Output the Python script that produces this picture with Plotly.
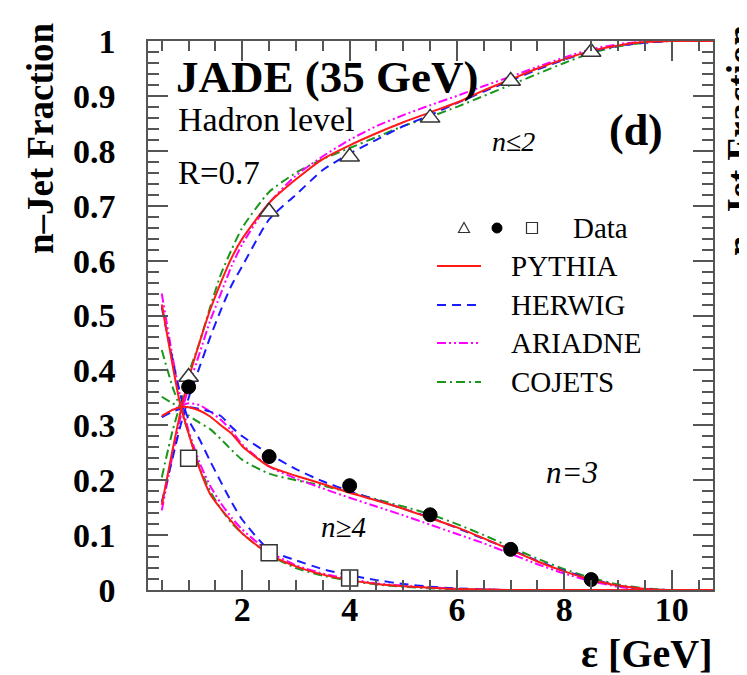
import plotly.graph_objects as go

# ---------------- data ----------------
eps = [0.5, 0.7, 0.85, 1.0, 1.2, 1.4, 1.6, 1.8, 2.0, 2.5, 3.0, 3.5, 4.0, 4.5,
       5.0, 5.5, 6.0, 6.5, 7.0, 7.5, 8.0, 8.5, 9.0, 9.5, 10.0, 10.5, 10.77]

pythia_le2 = [0.155, 0.255, 0.325, 0.385, 0.45, 0.51, 0.56, 0.605, 0.64, 0.705, 0.748, 0.785, 0.81, 0.832,
              0.852, 0.87, 0.888, 0.91, 0.93, 0.95, 0.967, 0.982, 0.992, 0.998, 1.0, 1.0, 1.0]
pythia_3 = [0.317, 0.328, 0.333, 0.333, 0.327, 0.316, 0.300, 0.285, 0.262, 0.225, 0.208, 0.193, 0.177, 0.163,
            0.148, 0.131, 0.114, 0.094, 0.073, 0.052, 0.034, 0.019, 0.008, 0.002, 0.0, 0.0, 0.0]
pythia_ge4 = [0.52, 0.41, 0.335, 0.285, 0.222, 0.175, 0.148, 0.125, 0.103, 0.065, 0.043, 0.028, 0.018, 0.011,
              0.007, 0.004, 0.002, 0.001, 0.0, 0.0, 0.0, 0.0, 0.0, 0.0, 0.0, 0.0, 0.0]

herwig_le2 = [0.16, 0.24, 0.30, 0.35, 0.405, 0.46, 0.51, 0.555, 0.59, 0.675, 0.72, 0.765, 0.795, 0.82,
              0.845, 0.865, 0.887, 0.908, 0.928, 0.948, 0.966, 0.981, 0.991, 0.997, 1.0, 1.0, 1.0]
herwig_3 = [0.315, 0.325, 0.33, 0.333, 0.33, 0.325, 0.317, 0.297, 0.28, 0.248, 0.22, 0.198, 0.18, 0.164,
            0.148, 0.132, 0.113, 0.093, 0.074, 0.053, 0.035, 0.02, 0.008, 0.002, 0.0, 0.0, 0.0]
herwig_ge4 = [0.515, 0.42, 0.355, 0.31, 0.275, 0.235, 0.197, 0.16, 0.128, 0.073, 0.054, 0.038, 0.027, 0.018,
              0.011, 0.006, 0.003, 0.001, 0.0, 0.0, 0.0, 0.0, 0.0, 0.0, 0.0, 0.0, 0.0]

ariadne_le2 = [0.145, 0.245, 0.315, 0.37, 0.43, 0.49, 0.54, 0.59, 0.63, 0.705, 0.755, 0.79, 0.82, 0.845,
               0.865, 0.883, 0.90, 0.918, 0.935, 0.953, 0.97, 0.985, 0.994, 0.999, 1.0, 1.0, 1.0]
ariadne_3 = [0.315, 0.328, 0.335, 0.34, 0.337, 0.325, 0.31, 0.29, 0.265, 0.225, 0.203, 0.185, 0.168, 0.152,
             0.136, 0.119, 0.102, 0.085, 0.066, 0.047, 0.03, 0.016, 0.006, 0.001, 0.0, 0.0, 0.0]
ariadne_ge4 = [0.54, 0.425, 0.35, 0.29, 0.233, 0.19, 0.158, 0.132, 0.11, 0.07, 0.045, 0.03, 0.02, 0.012,
               0.008, 0.005, 0.002, 0.001, 0.0, 0.0, 0.0, 0.0, 0.0, 0.0, 0.0, 0.0, 0.0]

cojets_le2 = [0.205, 0.29, 0.34, 0.395, 0.45, 0.515, 0.575, 0.62, 0.66, 0.725, 0.76, 0.785, 0.805, 0.825,
              0.845, 0.862, 0.88, 0.9, 0.92, 0.94, 0.96, 0.978, 0.99, 0.997, 1.0, 1.0, 1.0]
cojets_3 = [0.352, 0.34, 0.332, 0.318, 0.305, 0.293, 0.275, 0.255, 0.237, 0.212, 0.2, 0.19, 0.178, 0.165,
            0.152, 0.138, 0.12, 0.1, 0.078, 0.057, 0.038, 0.022, 0.01, 0.003, 0.0, 0.0, 0.0]
cojets_ge4 = [0.437, 0.37, 0.33, 0.285, 0.225, 0.18, 0.148, 0.122, 0.103, 0.064, 0.04, 0.026, 0.017, 0.01,
              0.006, 0.003, 0.001, 0.0, 0.0, 0.0, 0.0, 0.0, 0.0, 0.0, 0.0, 0.0, 0.0]

data_x = [1.0, 2.5, 4.0, 5.5, 7.0, 8.5]
data_le2 = [0.388, 0.689, 0.789, 0.860, 0.927, 0.980]
data_3 = [0.370, 0.243, 0.190, 0.137, 0.074, 0.019]
data_x4 = [1.0, 2.5, 4.0]
data_ge4 = [0.240, 0.068, 0.022]

x_ticks = [2, 4, 6, 8, 10]
x_ticktext = ["2", "4", "6", "8", "10"]
y_ticks = [0, 0.1, 0.2, 0.3, 0.4, 0.5, 0.6, 0.7, 0.8, 0.9, 1.0]
y_ticktext = ["0", "0.1", "0.2", "0.3", "0.4", "0.5", "0.6", "0.7", "0.8", "0.9", "1"]

models = ["PYTHIA", "HERWIG", "ARIADNE", "COJETS"]
model_series = {
    "PYTHIA": (pythia_le2, pythia_3, pythia_ge4),
    "HERWIG": (herwig_le2, herwig_3, herwig_ge4),
    "ARIADNE": (ariadne_le2, ariadne_3, ariadne_ge4),
    "COJETS": (cojets_le2, cojets_3, cojets_ge4),
}

# ---------------- styles ----------------
styles = {
    "PYTHIA": dict(color="#ff1a1a", dash="solid"),
    "HERWIG": dict(color="#1a1aff", dash="9px,6px"),
    "ARIADNE": dict(color="#ff00ff", dash="9px,3px,2px,3px,2px,3px"),
    "COJETS": dict(color="#1a961a", dash="9px,4px,2px,4px"),
}
AX = "#555555"
SERIF = "Liberation Serif"

# the page body has an 8px default margin: the figure is placed 8px right / down
OFF = 8
# desired on-screen pixel geometry of the plotting frame
L, R, T, B = 148, 713, 41, 590
W, H = 747 - OFF, 675 - OFF


def px(xp):
    return (xp - L) / (R - L)


def py(yp):
    return (B - yp) / (B - T)


fig = go.Figure()

draw_order = ["COJETS", "ARIADNE", "HERWIG", "PYTHIA"]
for m in draw_order:
    st = styles[m]
    for series in model_series[m]:
        fig.add_trace(go.Scatter(
            x=eps, y=series, mode="lines",
            line=dict(color=st["color"], dash=st["dash"], width=2, shape="spline", smoothing=0.6),
            showlegend=False, hoverinfo="skip"))

fig.add_trace(go.Scatter(x=data_x, y=data_le2, mode="markers", showlegend=False,
                         marker=dict(symbol="triangle-up", size=17, color="white",
                                     line=dict(color="#333333", width=1.5))))
fig.add_trace(go.Scatter(x=data_x, y=data_3, mode="markers", showlegend=False,
                         marker=dict(symbol="circle", size=14, color="black",
                                     line=dict(color="black", width=1))))
fig.add_trace(go.Scatter(x=data_x4, y=data_ge4, mode="markers", showlegend=False,
                         marker=dict(symbol="square", size=16, color="white",
                                     line=dict(color="#333333", width=1.5))))

shapes = []
annotations = []

# legend lines
leg_rows = [266, 305, 343, 382]
for m, yrow in zip(models, leg_rows):
    st = styles[m]
    shapes.append(dict(type="line", xref="paper", yref="paper",
                       x0=px(437), x1=px(481), y0=py(yrow), y1=py(yrow),
                       line=dict(color=st["color"], dash=st["dash"], width=2)))
    annotations.append(dict(text=m, xref="paper", yref="paper", x=px(509), y=py(yrow),
                            xanchor="left", yanchor="middle", showarrow=False,
                            font=dict(family=SERIF, size=29, color="black")))

# legend data symbols
ydata_row = 228
shapes.append(dict(type="path", xref="paper", yref="paper", xsizemode="pixel", ysizemode="pixel",
                   xanchor=px(464), yanchor=py(ydata_row),
                   path="M-5.5,-4.5 L5.5,-4.5 L0,5.5 Z",
                   line=dict(color="#333333", width=1.2), fillcolor="white"))
shapes.append(dict(type="circle", xref="paper", yref="paper", xsizemode="pixel", ysizemode="pixel",
                   xanchor=px(497), yanchor=py(ydata_row), x0=-5, x1=5, y0=-5, y1=5,
                   line=dict(color="black", width=1), fillcolor="black"))
shapes.append(dict(type="rect", xref="paper", yref="paper", xsizemode="pixel", ysizemode="pixel",
                   xanchor=px(532), yanchor=py(ydata_row), x0=-5.5, x1=5.5, y0=-5.5, y1=5.5,
                   line=dict(color="#333333", width=1.2), fillcolor="white"))
annotations.append(dict(text="Data", xref="paper", yref="paper", x=px(571), y=py(ydata_row),
                        xanchor="left", yanchor="middle", showarrow=False,
                        font=dict(family=SERIF, size=29, color="black")))

# texts inside the frame
annotations += [
    dict(text="<b>JADE (35 GeV)</b>", xref="paper", yref="paper", x=px(174), y=py(77),
         xanchor="left", yanchor="middle", showarrow=False,
         font=dict(family=SERIF, size=45, color="black")),
    dict(text="Hadron level", xref="paper", yref="paper", x=px(176), y=py(119),
         xanchor="left", yanchor="middle", showarrow=False,
         font=dict(family=SERIF, size=34, color="black")),
    dict(text="R=0.7", xref="paper", yref="paper", x=px(176), y=py(173),
         xanchor="left", yanchor="middle", showarrow=False,
         font=dict(family=SERIF, size=33, color="black")),
    dict(text="<b>(d)</b>", xref="paper", yref="paper", x=px(636), y=py(131),
         xanchor="center", yanchor="middle", showarrow=False,
         font=dict(family=SERIF, size=44, color="black")),
    dict(text="<i>n≤2</i>", xref="paper", yref="paper", x=px(513), y=py(142),
         xanchor="center", yanchor="middle", showarrow=False,
         font=dict(family=SERIF, size=28, color="black")),
    dict(text="<i>n=3</i>", xref="paper", yref="paper", x=px(572), y=py(472),
         xanchor="center", yanchor="middle", showarrow=False,
         font=dict(family=SERIF, size=31, color="black")),
    dict(text="<i>n≥4</i>", xref="paper", yref="paper", x=px(343), y=py(527),
         xanchor="center", yanchor="middle", showarrow=False,
         font=dict(family=SERIF, size=29, color="black")),
    # axis titles
    dict(text="<b>ε [GeV]</b>", xref="paper", yref="paper", x=px(714), y=py(653),
         xanchor="right", yanchor="middle", showarrow=False,
         font=dict(family=SERIF, size=40, color="black")),
    dict(text="<b>n–Jet Fraction</b>", xref="paper", yref="paper", x=px(40), y=py(138),
         xanchor="center", yanchor="middle", showarrow=False, textangle=-90,
         font=dict(family=SERIF, size=37, color="black")),
    # title of the neighbouring panel, cut by the page edge
    dict(text="<b>n–Jet Fraction</b>", xref="paper", yref="paper", x=px(740), y=py(140),
         xanchor="center", yanchor="middle", showarrow=False, textangle=-90,
         font=dict(family=SERIF, size=37, color="black")),
]

fig.update_layout(
    width=W, height=H,
    margin=dict(l=L - OFF, r=(W + OFF) - R, t=T - OFF, b=(H + OFF) - B, pad=0),
    paper_bgcolor="white", plot_bgcolor="white",
    showlegend=False,
    shapes=shapes, annotations=annotations,
    xaxis=dict(range=[0.243, 10.77], tickvals=x_ticks, ticktext=x_ticktext,
               automargin=False,
               ticks="inside", ticklen=20, tickwidth=1.5, tickcolor=AX,
               showline=True, linecolor=AX, linewidth=1.5, mirror="allticks",
               showgrid=False, zeroline=False, ticklabelstandoff=-12,
               tickfont=dict(family=SERIF, size=34, color="black", weight="bold"),
               minor=dict(dtick=0.5, tick0=0, ticks="inside", ticklen=10, tickwidth=1.5,
                          tickcolor=AX, showgrid=False)),
    yaxis=dict(range=[0, 1], tickvals=y_ticks, ticktext=y_ticktext,
               automargin=False,
               ticks="inside", ticklen=20, tickwidth=1.5, tickcolor=AX,
               showline=True, linecolor=AX, linewidth=1.5, mirror="allticks",
               showgrid=False, zeroline=False, ticklabelstandoff=24,
               tickfont=dict(family=SERIF, size=34, color="black", weight="bold"),
               minor=dict(dtick=0.02, tick0=0, ticks="inside", ticklen=11, tickwidth=1.5,
                          tickcolor=AX, showgrid=False)),
)

fig.write_html("out.html")
